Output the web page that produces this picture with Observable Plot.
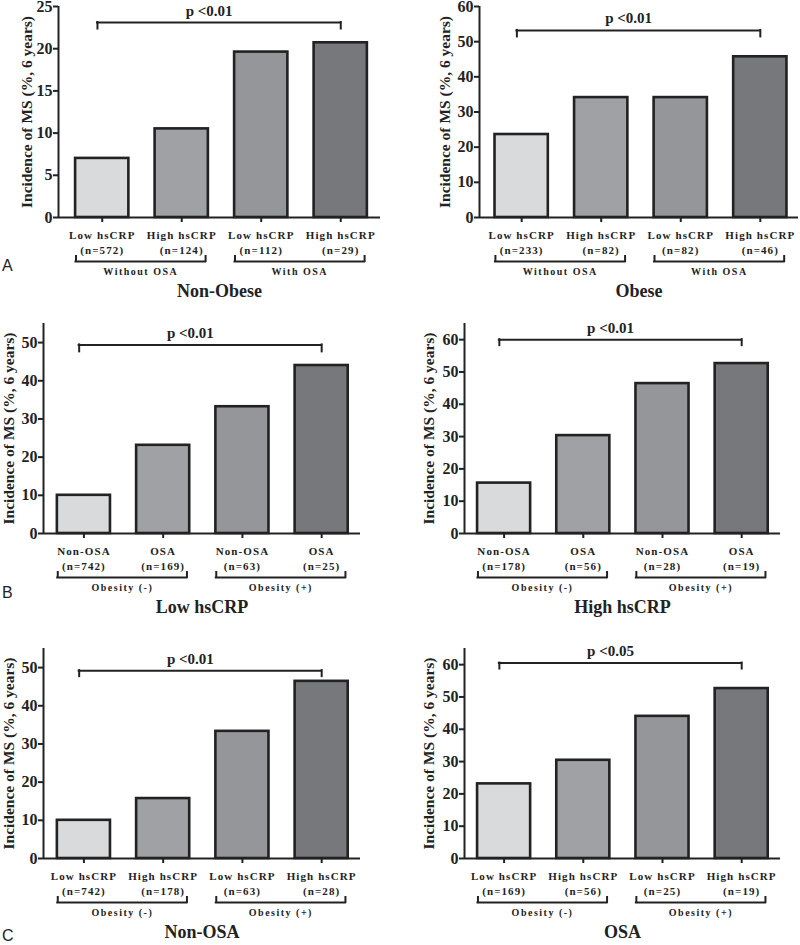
<!DOCTYPE html>
<html>
<head>
<meta charset="utf-8">
<script src="https://cdn.jsdelivr.net/npm/d3@7"></script>
<script src="https://cdn.jsdelivr.net/npm/@observablehq/plot@0.6"></script>
<style>
  body { margin: 0; background: #fff; }
  #fig { position: relative; width: 800px; height: 945px; overflow: hidden; background: #fff; }
  .panel { position: absolute; }
  .letter { position: absolute; left: 2px; font-family: "Liberation Sans", Arial, sans-serif; font-size: 16px; line-height: 1; color: #222; }
  g[font-size="11"] { letter-spacing: 1.1px; }
  g[font-size="10"] { letter-spacing: 1.5px; }
</style>
</head>
<body>
<div id="fig"></div>
<script>
// ---------------- data ----------------
const yAxisTitle = "Incidence of MS (%, 6 years)";
const panelTitles = ["Non-Obese", "Obese", "Low hsCRP", "High hsCRP", "Non-OSA", "OSA"];
const panelLetters = ["A", "B", "C"];

const hsCrpNames = ["Low hsCRP", "High hsCRP", "Low hsCRP", "High hsCRP"];
const osaNames = ["Non-OSA", "OSA", "Non-OSA", "OSA"];
const osaGroups = ["Without OSA", "With OSA"];
const obesityGroups = ["Obesity (-)", "Obesity (+)"];

const nonObeseN = [572, 124, 112, 29];
const nonObeseMS = [7.0, 10.5, 19.6, 20.7];
const obeseN = [233, 82, 82, 46];
const obeseMS = [23.6, 34.1, 34.1, 45.7];
const lowCrpN = [742, 169, 63, 25];
const lowCrpMS = [10.0, 23.1, 33.2, 44.0];
const highCrpN = [178, 56, 28, 19];
const highCrpMS = [15.6, 30.3, 46.4, 52.6];
const nonOsaN = [742, 178, 63, 28];
const nonOsaMS = [10.0, 15.7, 33.3, 46.4];
const osaN = [169, 56, 25, 19];
const osaMS = [23.1, 30.4, 44.0, 52.6];

const pValues = ["p <0.01", "p <0.01", "p <0.01", "p <0.01", "p <0.01", "p <0.05"];

const yTicks25 = [0, 5, 10, 15, 20, 25];
const yTicks50 = [0, 10, 20, 30, 40, 50];
const yTicks60 = [0, 10, 20, 30, 40, 50, 60];

const barFills = ["#d9dadc", "#a0a1a5", "#95969a", "#77787c"];

const panels = [
  {title: panelTitles[0], names: hsCrpNames, n: nonObeseN, ms: nonObeseMS, groups: osaGroups, p: pValues[0], ticks: yTicks25},
  {title: panelTitles[1], names: hsCrpNames, n: obeseN, ms: obeseMS, groups: osaGroups, p: pValues[1], ticks: yTicks60},
  {title: panelTitles[2], names: osaNames, n: lowCrpN, ms: lowCrpMS, groups: obesityGroups, p: pValues[2], ticks: yTicks50},
  {title: panelTitles[3], names: osaNames, n: highCrpN, ms: highCrpMS, groups: obesityGroups, p: pValues[3], ticks: yTicks60},
  {title: panelTitles[4], names: hsCrpNames, n: nonOsaN, ms: nonOsaMS, groups: obesityGroups, p: pValues[4], ticks: yTicks50},
  {title: panelTitles[5], names: hsCrpNames, n: osaN, ms: osaMS, groups: obesityGroups, p: pValues[5], ticks: yTicks60}
];

// ---------------- layout ----------------
const layouts = [
  {left: 0,   top: 0,   height: 307, mt: 6,  mb: 90, ml: 58, mr: 20, xd: [0.45, 4.5],  ymax: 25, bracket: 23.1, drop: 6.5, lx: -31},
  {left: 400, top: 0,   height: 307, mt: 6,  mb: 90, ml: 79, mr: 2,  xd: [0.47, 4.48], ymax: 60, bracket: 53.2, drop: 6.5, lx: -34},
  {left: 0,   top: 307, height: 310, mt: 16, mb: 84, ml: 43, mr: 40, xd: [0.49, 4.49], ymax: 55, bracket: 49.4, drop: 7,   lx: -34},
  {left: 400, top: 307, height: 310, mt: 16, mb: 84, ml: 64, mr: 20, xd: [0.5, 4.49],  ymax: 65, bracket: 60,   drop: 6,   lx: -35},
  {left: 0,   top: 617, height: 328, mt: 31, mb: 87, ml: 43, mr: 40, xd: [0.49, 4.49], ymax: 55, bracket: 49.2, drop: 6,   lx: -34},
  {left: 400, top: 617, height: 328, mt: 31, mb: 87, ml: 64, mr: 20, xd: [0.5, 4.49],  ymax: 65, bracket: 60.5, drop: 6,   lx: -35}
];
const letterTops = [258, 585, 928];

const ink = "#222";
const serif = "'Liberation Serif', 'Times New Roman', serif";

function drawPanel(P, L) {
  const positions = P.names.map((_, i) => i + 1);
  const rows = P.names.map((name, i) => ({pos: positions[i], name, n: P.n[i], value: P.ms[i], fill: barFills[i]}));
  const groupRows = P.groups.map((g, k) => ({name: g, x1: positions[2 * k] - 0.33, x2: positions[2 * k + 1] + 0.30}));
  const groupEnds = groupRows.flatMap(g => [g.x1, g.x2]);
  const bx1 = positions[0] - 0.06, bx2 = positions[positions.length - 1];
  const half = 0.335;

  return Plot.plot({
    width: 400,
    height: L.height,
    marginLeft: L.ml,
    marginRight: L.mr,
    marginTop: L.mt,
    marginBottom: L.mb,
    style: {fontFamily: serif, color: ink, background: "transparent", overflow: "visible"},
    x: {domain: L.xd, axis: null},
    y: {domain: [0, L.ymax], axis: null},
    color: {type: "identity"},
    marks: [
      Plot.rect(rows, {x1: d => d.pos - half, x2: d => d.pos + half, y1: 0, y2: "value", fill: "fill", stroke: ink, strokeWidth: 2.6}),
      Plot.ruleY([0], {stroke: ink, strokeWidth: 2}),
      Plot.ruleX([L.xd[0]], {y1: 0, y2: L.ymax, stroke: ink, strokeWidth: 2}),
      Plot.axisY({ticks: P.ticks, tickSize: 5, tickPadding: 1, fontSize: 16, fontWeight: "bold", strokeWidth: 2, label: null}),
      Plot.axisX({
        ticks: positions,
        tickFormat: v => { const r = rows[v - 1]; return `${r.name}\n(n=${r.n})`; },
        tickSize: 5, tickPadding: 6, fontSize: 11, fontWeight: "bold", lineHeight: 1.36, strokeWidth: 2, label: null
      }),
      // significance bracket
      Plot.ruleY([L.bracket], {x1: bx1, x2: bx2, stroke: ink, strokeWidth: 2, strokeLinecap: "square"}),
      Plot.ruleX([bx1, bx2], {y1: L.bracket, y2: L.bracket, insetBottom: -L.drop, stroke: ink, strokeWidth: 2, strokeLinecap: "square"}),
      Plot.text([{x: (bx1 + bx2) / 2, y: L.bracket, t: P.p}], {x: "x", y: "y", text: "t", dx: -10, dy: -7, lineAnchor: "bottom", fontSize: 15, fontWeight: "bold", fill: ink}),
      // group brackets below the axis
      Plot.ruleY(groupRows, {x1: "x1", x2: "x2", y: 0, dy: 44, stroke: ink, strokeWidth: 2, strokeLinecap: "square"}),
      Plot.ruleX(groupEnds, {x: d => d, y1: 0, y2: 0, dy: 39, insetBottom: -5, stroke: ink, strokeWidth: 2, strokeLinecap: "square"}),
      Plot.text(groupRows, {x: d => (d.x1 + d.x2) / 2, y: 0, dy: 50, text: "name", lineAnchor: "top", fontSize: 10, fontWeight: "bold", fill: ink}),
      // panel title
      Plot.text([P.title], {text: d => d, frameAnchor: "bottom", dy: 67, lineAnchor: "top", textAnchor: "middle", fontSize: 18, fontWeight: "bold", fill: ink}),
      // y axis title
      Plot.text([yAxisTitle], {text: d => d, frameAnchor: "left", textAnchor: "middle", lineAnchor: "middle", rotate: -90, dx: L.lx, fontSize: 15.5, fontWeight: "bold", fill: ink})
    ]
  });
}

const fig = document.getElementById("fig");
panels.forEach((P, i) => {
  const L = layouts[i];
  const div = document.createElement("div");
  div.className = "panel";
  div.style.left = L.left + "px";
  div.style.top = L.top + "px";
  div.appendChild(drawPanel(P, L));
  fig.appendChild(div);
});
panelLetters.forEach((t, i) => {
  const d = document.createElement("div");
  d.className = "letter";
  d.style.top = letterTops[i] + "px";
  d.textContent = t;
  fig.appendChild(d);
});
</script>
</body>
</html>
